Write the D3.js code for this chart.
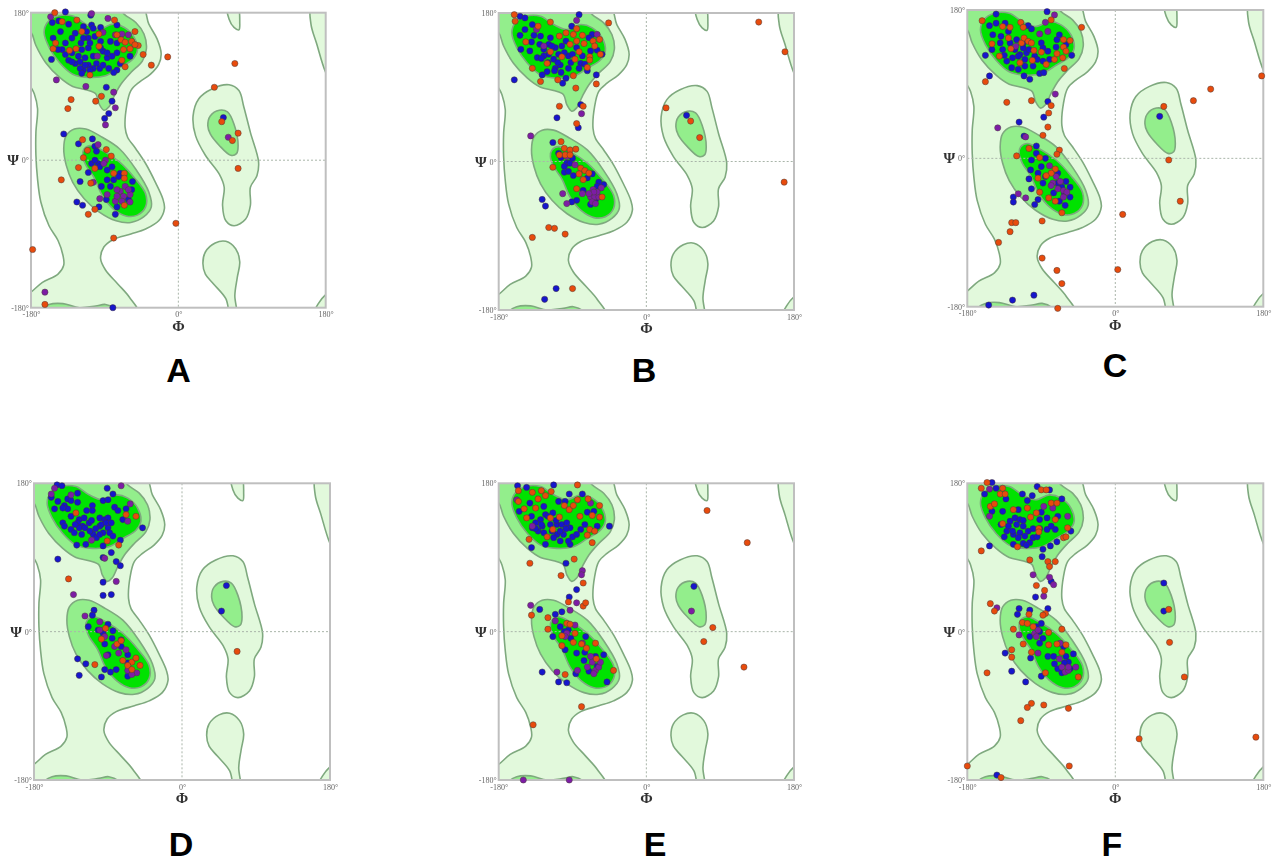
<!DOCTYPE html>
<html><head><meta charset="utf-8">
<style>html,body{margin:0;padding:0;background:#fff}svg{display:block}</style>
<script src="https://cdn.jsdelivr.net/npm/d3@7"></script></head><body><div id="c"></div>
<script>
const panelNames=["A","B","C","D","E","F"];
const tickValues=[-180,0,180];
// Ramachandran contours, [phi, psi] degrees; points past ±180 are clipped by the frame
const lightLeft=[[-46,190],[-36,166],[-26,148],[-21,130],[-24,117],[-34,105],[-48,95],[-58,85],[-63,67],[-65,40],[-62,28],[-52,14],[-40,-4],[-28,-27],[-19,-47],[-17,-59],[-24,-74],[-40,-84],[-58,-90],[-80,-97],[-91,-106],[-95,-120],[-89,-134],[-74,-151],[-60,-167],[-48,-190],[-195,-195],[-190,-167],[-180,-161],[-166,-149],[-147,-139],[-140,-128],[-141,-116],[-147,-98],[-158,-80],[-168,-51],[-172,-23],[-174,6],[-174,34],[-172,63],[-176,81],[-184,98],[-195,195]];
const mediumTop=[[-190,162],[-180,156],[-174,140],[-162,119],[-145,101],[-129,90],[-113,86],[-101,81],[-97,69],[-91,61],[-85,65],[-78,79],[-70,93],[-58,107],[-44,121],[-39,136],[-42,154],[-52,168],[-66,178],[-76,190],[-195,195]];
const darkTop=[[-164,156],[-160,168],[-147,176],[-129,176],[-113,166],[-97,160],[-80,166],[-66,162],[-54,150],[-50,134],[-56,123],[-72,113],[-89,103],[-109,101],[-129,105],[-145,119],[-158,138]];
const mediumMid=[[-140,14],[-137,30],[-127,38],[-113,38],[-93,28],[-72,14],[-52,-11],[-36,-39],[-33,-57],[-42,-69],[-58,-76],[-76,-74],[-97,-63],[-115,-47],[-129,-27],[-137,-6]];
const darkMid=[[-117,6],[-115,14],[-107,18],[-93,12],[-72,-2],[-54,-21],[-40,-41],[-40,-57],[-50,-67],[-64,-68],[-80,-59],[-93,-43],[-103,-21],[-113,-6]];
const mediumBottom=[[-172,-190],[-168,-182],[-158,-176],[-141,-175],[-121,-180],[-101,-178],[-89,-176],[-76,-182],[-72,-190]];
const lightRight=[[18,54],[25,75],[41,87],[62,92],[74,85],[80,65],[88,34],[98,-2],[96,-19],[88,-33],[88,-55],[82,-72],[68,-80],[58,-74],[54,-55],[56,-33],[50,-17],[33,6],[21,30]];
const mediumRight=[[36,42],[39,54],[50,61],[60,59],[68,44],[73,18],[71,8],[64,6],[50,18],[39,32]];
const lightTopSmall=[[60,190],[62,172],[68,162],[74,159],[75,168],[72,190]];
const lightTopRight=[[163,190],[162,166],[169,142],[180,107],[190,90],[195,195]];
const lightBottomMid=[[30,-126],[33,-112],[45,-101],[58,-99],[70,-108],[75,-124],[72,-143],[69,-165],[71,-190],[64,-190],[58,-169],[43,-151],[33,-139]];
const lightBottomRight=[[180,-164],[171,-175],[165,-190],[195,-195],[195,-155]];

const blueA=[[-138,181],[-107,177],[-154,168],[-146,170],[-134,166],[-116,163],[-106,165],[-95,162],[-75,165],[-144,157],[-130,149],[-153,149],[-119,143],[-110,149],[-102,151],[-83,145],[-142,135],[-130,131],[-118,135],[-110,137],[-92,133],[-75,131],[-155,123],[-134,122],[-122,127],[-114,125],[-104,127],[-87,125],[-81,127],[-59,127],[-75,110],[-79,107],[-116,110],[-104,112],[-96,112],[-126,118],[-110,116],[-120,112],[-71,118],[-88,89],[-81,72],[-85,57],[-90,51],[-140,32],[-122,20],[-105,26],[-102,17],[-100,11],[-106,-4],[-110,-15],[-98,-4],[-120,-26],[-87,-12],[-87,-24],[-56,-26],[-88,-48],[-77,-66],[-124,-51],[-117,-55],[-97,-57],[-80,-180],[55,52],[-94,-32],[-71,-16],[-61,-48],[-138,143],[-147,135],[-138,129],[-130,120],[-120,120],[-114,116],[-118,106],[-108,110],[-100,118],[-92,116],[-87,131],[-95,137],[-108,143],[-116,149],[-95,145],[-75,143],[-85,112],[-104,161],[-112,157],[-126,155],[-102,0],[-96,-8],[-81,-8],[-79,-24],[-73,-20],[-83,-32],[-57,-36],[-75,-57]];
const orangeA=[[-151,180],[-142,169],[-124,171],[-78,171],[-53,157],[-75,153],[-70,147],[-65,144],[-57,145],[-49,140],[-53,141],[-59,136],[-67,135],[-43,129],[-33,116],[-13,126],[-65,114],[-69,122],[-108,104],[-125,136],[-133,134],[-153,136],[-150,143],[-118,157],[-97,154],[-97,139],[-131,74],[-135,63],[-94,78],[-101,72],[-117,25],[-111,12],[-116,3],[-122,-9],[-143,-24],[-88,13],[-82,5],[-102,-10],[-79,-16],[-66,-16],[-66,-22],[-107,-28],[-102,-60],[-110,-66],[-66,-55],[-3,-77],[-79,-95],[-178,-109],[-163,-176],[53,47],[73,33],[66,24],[44,89],[69,118],[73,-10]];
const purpleA=[[-156,175],[-106,179],[-86,173],[-92,156],[-77,153],[-69,154],[-61,153],[-99,127],[-149,98],[-113,90],[-79,83],[-77,64],[-89,43],[-98,19],[-89,0],[-91,-4],[-104,-27],[-96,-47],[-87,-42],[-77,-50],[-71,-38],[-67,-44],[-59,-42],[-75,-44],[-65,-32],[-69,-50],[-59,-51],[-61,-36],[-75,-36],[61,28],[-163,-161]];

const blueB=[[-154,176],[-148,174],[-82,178],[-91,164],[-139,166],[-148,160],[-154,153],[-137,153],[-129,152],[-153,136],[-142,134],[-133,126],[-117,150],[-119,142],[-125,136],[-111,138],[-119,130],[-113,124],[-107,130],[-111,113],[-121,109],[-98,146],[-103,140],[-95,128],[-105,117],[-95,113],[-98,101],[-80,119],[-82,113],[-72,110],[-66,154],[-68,134],[-54,130],[-127,105],[-161,99],[-61,105],[-80,69],[-109,53],[-83,41],[-114,23],[-107,10],[-97,-2],[-93,-2],[-100,-13],[-89,-17],[-66,-15],[-77,-35],[-52,-28],[-85,-47],[-91,-49],[-127,-46],[-123,-54],[-58,-25],[49,56],[-110,-154],[-124,-167],[-125,128],[-115,140],[-108,120],[-100,132],[-112,110],[-120,120],[-104,108],[-90,130],[-92,120],[-78,128],[-130,142],[-140,145],[-128,125],[-85,138],[-70,150],[-60,135],[-102,95],[-75,118],[-104,5],[-90,4],[-95,-12],[-72,-20],[-60,-30],[-68,-52],[-62,-46],[-100,-6]];
const orangeB=[[-161,178],[-160,170],[-117,169],[-46,168],[-132,164],[-98,156],[-89,154],[-78,153],[-85,161],[-106,152],[-147,145],[-93,142],[-85,146],[-76,143],[-65,146],[-57,148],[-63,140],[-82,133],[-117,133],[-103,127],[-87,124],[-69,127],[-69,123],[-56,130],[-121,119],[-139,113],[-72,114],[-129,97],[-108,99],[-89,104],[-86,89],[-61,94],[-106,67],[-77,67],[-85,46],[-104,24],[-100,16],[-93,14],[-86,15],[-99,8],[-93,8],[-106,8],[-114,-7],[-80,-8],[-75,-11],[-70,-14],[-82,-15],[-77,-22],[-85,-33],[-54,-43],[-119,-80],[-112,-81],[-99,-88],[-139,-92],[-90,-154],[24,65],[54,49],[65,29],[137,169],[169,133],[168,-25]];
const purpleB=[[-85,171],[-134,160],[-60,154],[-125,140],[-79,58],[-141,31],[-97,6],[-87,-4],[-102,-39],[-97,-51],[-78,-39],[-65,-34],[-55,-32],[-68,-43],[-63,-43],[-58,-43],[-66,-49],[-62,-51],[-60,-37],[-64,-37],[-70,-39]];

const blueC=[[-145,175],[-83,178],[-153,161],[-145,164],[-134,164],[-106,161],[-102,157],[-149,150],[-139,148],[-130,154],[-150,132],[-137,132],[-120,144],[-122,132],[-112,134],[-116,126],[-108,128],[-132,118],[-126,110],[-118,108],[-110,112],[-104,96],[-111,100],[-98,124],[-88,134],[-82,130],[-92,103],[-87,104],[-80,120],[-71,144],[-53,125],[-158,125],[-153,100],[-82,69],[-87,50],[-117,44],[-111,27],[-96,15],[-102,-2],[-96,6],[-85,0],[-103,-14],[-94,-18],[-105,-25],[-102,-37],[-124,-47],[-124,-53],[-94,-50],[-98,-56],[-70,-18],[-55,-35],[-55,-47],[-61,-57],[54,51],[-154,-178],[-125,-172],[-99,-166],[-65,-35],[-128,140],[-118,124],[-110,120],[-105,132],[-125,122],[-95,120],[-88,118],[-112,140],[-135,125],[-140,140],[-100,112],[-68,150],[-60,138],[-72,135],[-90,140],[-90,-10],[-85,-22],[-70,-30],[-60,-28],[-62,-42],[-75,-42],[-68,-52],[-88,-30]];
const orangeC=[[-162,167],[-115,165],[-137,160],[-128,159],[-112,159],[-130,146],[-150,139],[-114,140],[-111,146],[-106,142],[-102,140],[-127,133],[-141,124],[-99,131],[-90,129],[-116,116],[-101,119],[-84,114],[-74,120],[-64,122],[-62,109],[-71,127],[-63,144],[-55,143],[-63,135],[-60,130],[-78,168],[-41,159],[-158,93],[-132,68],[-102,70],[-78,64],[-81,55],[-82,38],[-88,28],[-68,10],[-71,5],[-120,3],[-105,12],[-92,1],[-73,-13],[-78,-18],[-84,-21],[-94,-24],[-92,-41],[-81,-48],[-73,-52],[-65,-66],[-89,-76],[-126,-78],[-121,-78],[-128,-89],[-142,-102],[-89,-121],[-71,-136],[-65,-152],[-70,-182],[3,-135],[9,-68],[59,63],[95,70],[116,84],[178,100],[65,-2],[79,-52]];
const purpleC=[[-74,174],[-85,165],[-92,151],[-82,154],[-121,136],[-73,78],[-143,37],[-109,26],[-80,-9],[-76,-30],[-67,-28],[-72,-22],[-63,-39],[-59,-41],[-70,-37],[-63,-47],[-78,-33],[-109,-48],[-118,-43]];

const blueD=[[-152,178],[-146,177],[-91,174],[-84,167],[-127,168],[-159,163],[-151,158],[-139,161],[-135,159],[-143,153],[-127,157],[-155,149],[-139,149],[-96,159],[-90,160],[-109,153],[-116,147],[-109,147],[-82,151],[-78,147],[-68,149],[-135,140],[-125,136],[-119,138],[-113,132],[-121,128],[-145,132],[-143,128],[-135,124],[-131,120],[-127,132],[-100,138],[-94,136],[-90,138],[-100,128],[-90,126],[-88,120],[-84,116],[-108,118],[-104,114],[-98,130],[-117,106],[-128,105],[-96,104],[-86,96],[-75,111],[-72,136],[-48,126],[-151,88],[-96,90],[-80,85],[-75,80],[-96,60],[-96,44],[-86,45],[-107,26],[-109,20],[-114,6],[-102,2],[-90,9],[-84,1],[-94,-15],[-90,-28],[-74,-10],[-66,-28],[-127,-33],[-117,-39],[-125,-53],[-98,-55],[-94,-46],[-87,-49],[-80,-46],[-66,-54],[54,56],[48,25],[-125,126],[-118,126],[-112,122],[-122,118],[-105,125],[-96,120],[-92,132],[-130,130],[-110,135],[-145,150],[-100,118],[-86,132],[-96,-2],[-85,-8],[-74,-18],[-66,-38],[-60,-50]];
const orangeD=[[-138,64],[-77,105],[-106,-40],[-93,4],[-98,-9],[-72,-35],[-61,-37],[-56,-32],[-66,-41],[-61,-46],[67,-24],[-129,144],[-68,142],[-56,140],[-91,110],[-79,-15],[-74,-11],[-51,-41]];
const purpleD=[[-159,167],[-135,166],[-74,177],[-63,155],[-66,134],[-110,111],[-94,89],[-80,61],[-132,45],[-118,19],[-100,12],[-100,2],[-94,-6],[-82,-18],[-77,-26],[-68,-22],[-92,-29],[-66,-47],[-55,-50],[-61,-52],[-155,174]];

const blueE=[[-157,177],[-146,175],[-113,178],[-94,167],[-78,167],[-142,156],[-155,146],[-125,152],[-107,158],[-99,158],[-129,136],[-135,132],[-123,142],[-114,144],[-139,126],[-127,128],[-117,130],[-132,122],[-109,130],[-103,130],[-97,132],[-109,118],[-101,118],[-93,126],[-113,114],[-93,106],[-80,124],[-64,146],[-60,128],[-45,128],[-123,106],[-140,102],[-98,83],[-85,51],[-94,42],[-130,27],[-111,21],[-103,24],[-105,6],[-95,2],[-114,-6],[-99,-22],[-85,-26],[-74,-6],[-52,-28],[-76,-35],[-86,-51],[-127,-49],[-107,-61],[-97,-62],[-48,-61],[58,55],[-120,140],[-135,125],[-125,120],[-115,122],[-110,135],[-105,122],[-98,125],[-90,115],[-95,110],[-85,118],[-105,110],[-140,140],[-128,130],[-75,130],[-72,145],[-100,0],[-92,-8],[-75,-25],[-62,-30],[-60,-42],[-70,-48]];
const orangeE=[[-156,171],[-139,169],[-128,171],[-116,170],[-123,165],[-132,161],[-156,158],[-149,149],[-135,150],[-146,138],[-100,153],[-94,148],[-89,153],[-84,160],[-71,161],[-57,153],[-81,140],[-66,141],[-57,139],[-117,138],[-106,139],[-114,124],[-121,115],[-143,112],[-72,117],[-69,124],[-63,122],[-66,108],[-88,88],[-142,83],[-104,68],[-77,59],[-95,36],[-77,31],[-74,35],[-140,20],[-120,17],[-120,3],[-97,10],[-93,9],[-103,-5],[-87,-2],[-103,-17],[-89,-13],[-79,-15],[-73,-20],[-62,-14],[-61,-33],[-40,-47],[-99,-52],[-79,-91],[-138,-113],[74,147],[123,108],[81,5],[70,-12],[119,-43],[-84,178]];
const purpleE=[[-150,-180],[-94,-180],[-158,160],[-68,156],[-78,74],[-79,69],[-141,32],[-85,35],[-93,26],[-111,13],[-97,-2],[-99,-6],[-87,8],[-109,-49],[-72,-43],[-66,-37],[-62,-47],[-68,-30],[-58,-43],[-64,-51],[-56,-37],[-78,-14],[-84,-47],[55,25],[-139,128]];

const blueF=[[-150,181],[-145,174],[-159,167],[-95,176],[-80,172],[-113,167],[-133,161],[-107,159],[-101,165],[-65,161],[-150,146],[-137,146],[-122,138],[-116,136],[-128,134],[-139,130],[-120,130],[-112,128],[-132,122],[-124,118],[-116,120],[-106,122],[-100,114],[-104,108],[-112,107],[-124,106],[-83,138],[-83,124],[-73,124],[-92,136],[-54,122],[-71,109],[-79,104],[-88,100],[-89,91],[-153,104],[-78,61],[-97,42],[-82,28],[-117,28],[-119,21],[-104,26],[-90,10],[-96,6],[-104,-6],[-92,-14],[-82,-30],[-134,-26],[-103,-32],[-126,-48],[-109,-61],[-90,-54],[-51,-27],[-74,-39],[59,59],[59,25],[-144,-174],[-63,-18],[-57,-37],[-125,122],[-118,114],[-110,116],[-112,135],[-130,128],[-100,125],[-95,115],[-92,125],[-78,128],[-108,105],[-118,148],[-90,145],[-70,140],[-135,115],[-92,0],[-88,-8],[-75,-30],[-62,-38],[-70,-45],[-55,-45],[-60,-30],[-65,-50]];
const orangeF=[[-156,181],[-163,174],[-137,174],[-140,167],[-134,167],[-90,172],[-84,172],[-78,156],[-71,156],[-152,152],[-147,155],[-124,148],[-107,150],[-96,144],[-103,139],[-73,136],[-137,131],[-93,125],[-93,121],[-58,126],[-63,114],[-60,115],[-119,103],[-163,98],[-82,85],[-73,85],[-80,79],[-96,56],[-86,50],[-152,34],[-147,25],[-85,22],[-88,20],[-105,21],[-113,11],[-107,10],[-100,6],[-124,3],[-65,3],[-81,-1],[-112,-15],[-81,-16],[-71,-15],[-60,-16],[-65,-25],[-102,-25],[-126,-22],[-126,-31],[-156,-50],[-85,-50],[-45,-55],[-102,-87],[-107,-92],[-87,-89],[-57,-93],[-115,-108],[-180,-163],[-56,-163],[-139,-177],[29,-130],[171,-128],[65,27],[66,-13],[84,-55],[-104,87]];
const purpleF=[[-153,173],[-153,140],[-76,150],[-87,152],[-58,140],[-100,69],[-80,66],[-75,57],[-87,43],[-144,29],[-117,-4],[-98,-2],[-94,2],[-96,-6],[-68,-33],[-48,-43],[-65,-43],[-61,-49],[-57,-47],[-67,-14],[-57,-43],[-94,-26]];

const seriesBlue=[blueA,blueB,blueC,blueD,blueE,blueF];
const seriesPurple=[purpleA,purpleB,purpleC,purpleD,purpleE,purpleF];
const seriesOrange=[orangeA,orangeB,orangeC,orangeD,orangeE,orangeF];

// layout
const frames=[[31,325.7,12.7,307.7],[498.7,794,13,310],[967.3,1263.3,10,306.7],[34,330,483.3,780],[498.7,794,483.3,780],[967.3,1263.3,483.3,780]];
const labelPos=[[178.5,382],[644,382],[1115,377],[181,855.5],[655,855.5],[1112,855.5]];
const LIGHT="#e2f9dc",MED="#93ee8c",DARK="#02e202",EDGE="#7fa97f";

const svg=d3.select("#c").append("svg").attr("width",1275).attr("height",863);
const defs=svg.append("defs");
defs.append("filter").attr("id","soft").attr("x","-5%").attr("y","-5%").attr("width","110%").attr("height","110%")
  .append("feGaussianBlur").attr("stdDeviation",0.7);

panelNames.forEach((name,i)=>{
  const [x0,x1,y0,y1]=frames[i];
  const x=d3.scaleLinear().domain([-180,180]).range([x0,x1]);
  const y=d3.scaleLinear().domain([-180,180]).range([y1,y0]);
  const g=svg.append("g").attr("filter","url(#soft)");
  defs.append("clipPath").attr("id","clip"+i).append("rect").attr("x",x0).attr("y",y0).attr("width",x1-x0).attr("height",y1-y0);
  const clipG=g.append("g").attr("clip-path","url(#clip"+i+")");
  const line=d3.line().x(d=>x(d[0])).y(d=>y(d[1])).curve(d3.curveCatmullRomClosed.alpha(0.5));
  const regions=[[lightLeft,LIGHT],[lightRight,LIGHT],[lightTopSmall,LIGHT],[lightTopRight,LIGHT],[lightBottomMid,LIGHT],[lightBottomRight,LIGHT],[mediumTop,MED],[mediumMid,MED],[mediumRight,MED],[mediumBottom,MED],[darkTop,DARK],[darkMid,DARK]];
  clipG.selectAll("path.r").data(regions).join("path").attr("class","r")
    .attr("d",d=>line(d[0])).attr("fill",d=>d[1]).attr("stroke",EDGE).attr("stroke-width",1.6);
  // zero grid lines
  clipG.append("line").attr("x1",x(0)).attr("x2",x(0)).attr("y1",y0).attr("y2",y1).attr("stroke","#a9b5a9").attr("stroke-dasharray","2,2").attr("stroke-width",1);
  clipG.append("line").attr("x1",x0).attr("x2",x1).attr("y1",y(0)).attr("y2",y(0)).attr("stroke","#a9b5a9").attr("stroke-dasharray","2,2").attr("stroke-width",1);
  // frame
  g.append("rect").attr("x",x0).attr("y",y0).attr("width",x1-x0).attr("height",y1-y0).attr("fill","none").attr("stroke","#bfbfbf").attr("stroke-width",2);
  // points
  const draw=(arr,color)=>g.append("g").selectAll("circle").data(arr).join("circle")
    .attr("cx",d=>x(d[0])).attr("cy",d=>y(d[1])).attr("r",3.1).attr("fill",color).attr("stroke","#4a3a3a").attr("stroke-width",0.5);
  draw(seriesBlue[i],"#1212cc");
  draw(seriesPurple[i],"#7d1fa5");
  draw(seriesOrange[i],"#e84c0c");
  // axes
  const fmt=d=>d+"°";
  const ax=g.append("g").attr("transform",`translate(0,${y1})`).call(d3.axisBottom(x).tickValues(tickValues).tickSize(0).tickPadding(4).tickFormat(fmt));
  const ay=g.append("g").attr("transform",`translate(${x0},0)`).call(d3.axisLeft(y).tickValues(tickValues).tickSize(0).tickPadding(2).tickFormat(fmt));
  [ax,ay].forEach(a=>{a.select(".domain").remove();a.selectAll("text").attr("font-family","'Liberation Serif',serif").attr("font-size",8).attr("fill","#666");});
  g.append("text").attr("x",x(0)).attr("y",y1+23).attr("text-anchor","middle").attr("font-family","'Liberation Serif','DejaVu Serif',serif").attr("font-weight","bold").attr("font-size",15).attr("fill","#333").text("Φ");
  g.append("text").attr("x",x0-12).attr("y",y(0)+5).attr("text-anchor","end").attr("font-family","'Liberation Serif','DejaVu Serif',serif").attr("font-weight","bold").attr("font-size",15).attr("fill","#333").text("Ψ");
  // panel letter
  svg.append("text").attr("x",labelPos[i][0]).attr("y",labelPos[i][1]).attr("text-anchor","middle").attr("font-family","'Liberation Sans',Arial,sans-serif").attr("font-weight","bold").attr("font-size",34).attr("fill","#000").text(name);
});
</script></body></html>
